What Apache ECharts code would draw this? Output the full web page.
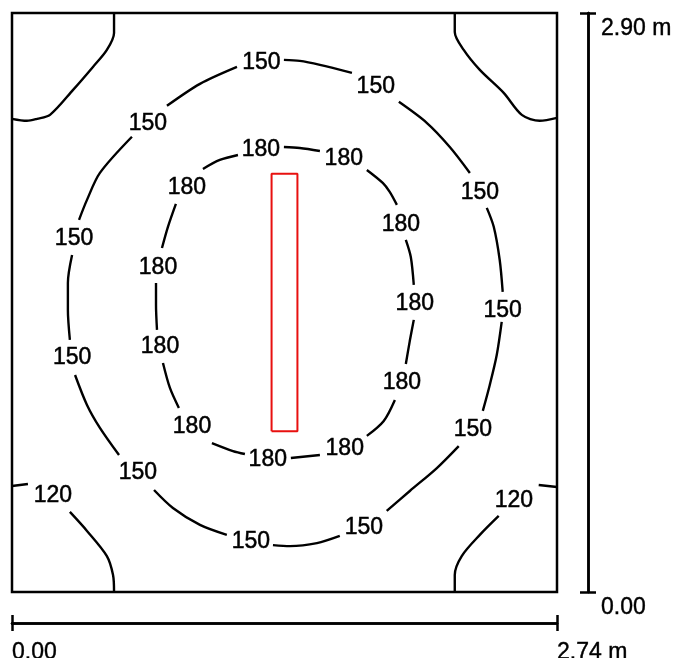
<!DOCTYPE html>
<html>
<head>
<meta charset="utf-8">
<script src="https://cdn.jsdelivr.net/npm/echarts@6/dist/echarts.min.js"></script>
<style>
  html, body { margin: 0; padding: 0; background: #fff; }
  #chart { width: 677px; height: 658px; }
</style>
</head>
<body>
<div id="chart"></div>
<script>
const roomWidth = 2.74;
const roomLength = 2.90;

// isolines in metres, one array per drawn piece (the gaps hold the labels)
const iso120 = [
  [[0.513, 2.90], [0.513, 2.80], [0.477, 2.715], [0.407, 2.63], [0.307, 2.515], [0.191, 2.39], [0.126, 2.37], [0.075, 2.36], [0, 2.37]],
  [[2.226, 2.90], [2.226, 2.805], [2.271, 2.715], [2.352, 2.615], [2.472, 2.50], [2.563, 2.39], [2.653, 2.36], [2.74, 2.375]],
  [[0, 0.531], [0.080, 0.541]],
  [[0.291, 0.401], [0.377, 0.306], [0.477, 0.180], [0.508, 0.085], [0.513, 0]],
  [[2.74, 0.526], [2.648, 0.536]],
  [[2.447, 0.381], [2.352, 0.286], [2.261, 0.180], [2.226, 0.085], [2.226, 0]]
];

const iso150 = [
  [[1.131, 2.630], [0.945, 2.545], [0.779, 2.435]],
  [[0.603, 2.280], [0.442, 2.099], [0.377, 1.964], [0.337, 1.864]],
  [[0.302, 1.688], [0.281, 1.548], [0.281, 1.413], [0.291, 1.263]],
  [[0.317, 1.087], [0.377, 0.937], [0.442, 0.822], [0.538, 0.686]],
  [[0.714, 0.511], [0.809, 0.421], [0.945, 0.336], [1.080, 0.286]],
  [[1.312, 0.235], [1.397, 0.230], [1.533, 0.245], [1.648, 0.281]],
  [[1.884, 0.406], [2.000, 0.506], [2.136, 0.621], [2.246, 0.731]],
  [[2.367, 0.907], [2.402, 1.037], [2.437, 1.187], [2.462, 1.353]],
  [[2.467, 1.503], [2.452, 1.663], [2.422, 1.829], [2.387, 1.924]],
  [[2.302, 2.099], [2.201, 2.229], [2.085, 2.350], [1.945, 2.455]],
  [[1.709, 2.600], [1.548, 2.640], [1.447, 2.660], [1.367, 2.665]]
];

const iso180 = [
  [[1.136, 2.189], [1.045, 2.164], [0.960, 2.119]],
  [[0.824, 1.944], [0.784, 1.829], [0.754, 1.723]],
  [[0.724, 1.548], [0.724, 1.438], [0.729, 1.313]],
  [[0.759, 1.147], [0.794, 1.022], [0.839, 0.922]],
  [[1.005, 0.746], [1.111, 0.706], [1.171, 0.691]],
  [[1.402, 0.671], [1.548, 0.686]],
  [[1.784, 0.782], [1.869, 0.857], [1.925, 0.962]],
  [[1.980, 1.142], [2.000, 1.258], [2.020, 1.363]],
  [[2.020, 1.538], [2.005, 1.678], [1.980, 1.764]],
  [[1.935, 1.939], [1.899, 2.004], [1.864, 2.049], [1.784, 2.114]],
  [[1.548, 2.209], [1.447, 2.224], [1.367, 2.229]]
];

// label positions (centre of the text)
const labels120 = [[0.206, 0.481], [2.523, 0.456]];
const labels150 = [[1.254, 2.653], [0.683, 2.345], [0.312, 1.769], [0.302, 1.172], [0.633, 0.596], [1.201, 0.251],
  [1.769, 0.321], [2.317, 0.812], [2.467, 1.408], [2.352, 1.999], [1.829, 2.530]];
const labels180 = [[1.251, 2.217], [0.879, 2.024], [0.734, 1.623], [0.744, 1.227], [0.905, 0.827], [1.286, 0.661],
  [1.673, 0.716], [1.960, 1.047], [2.025, 1.443], [1.955, 1.839], [1.668, 2.169]];

// luminaire outline
const lumX = [1.305, 1.435];
const lumY = [0.805, 2.095];

const font = "'Liberation Sans', Arial, sans-serif";

const chart = echarts.init(document.getElementById('chart'));

const isoSeries = (segs) => segs.map(seg => ({
  type: 'line',
  data: seg,
  smooth: 0.3,
  symbol: 'none',
  silent: true,
  lineStyle: { color: '#000', width: 2.4 }
}));

const labelSeries = (pts, value) => ({
  type: 'scatter',
  data: pts.map(p => [p[0], p[1], value]),
  symbolSize: 0,
  silent: true,
  itemStyle: { color: 'transparent' },
  label: {
    show: true,
    position: 'inside',
    formatter: p => String(p.value[2]),
    fontSize: 23,
    fontFamily: font,
    color: '#000',
    opacity: 1,
    textBorderColor: '#000',
    textBorderWidth: 0.5
  }
});

const dimFormatter = (v) => (v === 0 ? '0.00' : v.toFixed(2) + ' m');

const dimAxis = (max, extra) => Object.assign({
  type: 'value',
  min: 0,
  max: max,
  interval: max,
  offset: 31,
  axisLine: { show: true, onZero: false, lineStyle: { color: '#000', width: 2.5 } },
  axisTick: { show: true, length: 8, lineStyle: { color: '#000', width: 2.5 } },
  splitLine: { show: false },
  axisLabel: { show: false }
}, extra);

const labelStyle = {
  show: true,
  formatter: dimFormatter,
  fontSize: 23,
  fontFamily: font,
  color: '#000',
  textBorderColor: '#000',
  textBorderWidth: 0.4,
  showMinLabel: true,
  showMaxLabel: true
};

chart.setOption({
  animation: false,
  grid: {
    left: 12, top: 13, width: 545, height: 579,
    show: true,
    borderColor: '#000',
    borderWidth: 2.5,
    outerBoundsMode: 'none'
  },
  xAxis: [
    { type: 'value', min: 0, max: roomWidth, show: false },
    dimAxis(roomWidth, {
      position: 'bottom',
      axisLabel: Object.assign({}, labelStyle, { align: 'left', verticalAlign: 'top', margin: 18 })
    }),
    dimAxis(roomWidth, {
      position: 'bottom',
      axisTick: { show: true, inside: true, length: 8, lineStyle: { color: '#000', width: 2.5 } }
    })
  ],
  yAxis: [
    { type: 'value', min: 0, max: roomLength, show: false },
    dimAxis(roomLength, {
      position: 'right',
      axisLabel: Object.assign({}, labelStyle, { align: 'left', verticalAlign: 'top', lineHeight: 32, margin: 13 })
    }),
    dimAxis(roomLength, {
      position: 'right',
      axisTick: { show: true, inside: true, length: 8, lineStyle: { color: '#000', width: 2.5 } }
    })
  ],
  series: [
    ...isoSeries(iso120),
    ...isoSeries(iso150),
    ...isoSeries(iso180),
    {
      type: 'line',
      data: [[lumX[0], lumY[0]], [lumX[1], lumY[0]], [lumX[1], lumY[1]], [lumX[0], lumY[1]], [lumX[0], lumY[0]]],
      symbol: 'none',
      silent: true,
      lineStyle: { color: '#e8100f', width: 2 }
    },
    labelSeries(labels120, 120),
    labelSeries(labels150, 150),
    labelSeries(labels180, 180)
  ]
});

window.addEventListener('resize', () => chart.resize());
</script>
</body>
</html>
